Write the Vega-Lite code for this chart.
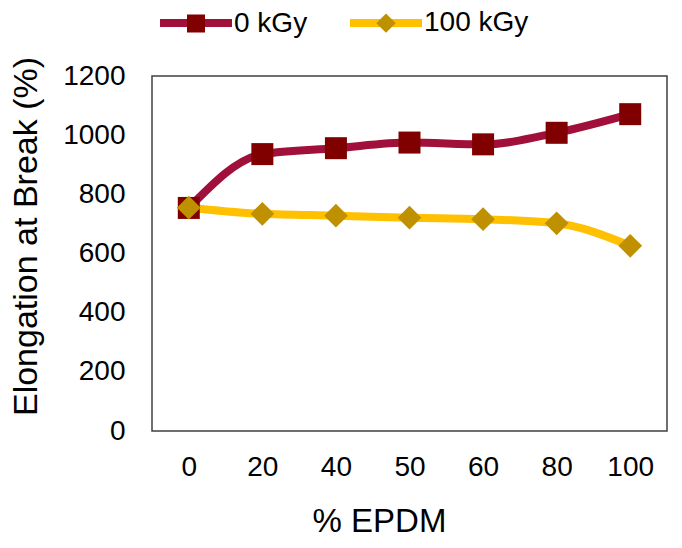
{
  "$schema": "https://vega.github.io/schema/vega-lite/v6.json",
  "width": 515,
  "height": 355,
  "autosize": {"type": "none"},
  "padding": {"left": 152, "top": 76, "right": 15, "bottom": 117},
  "background": "white",
  "config": {
    "font": "Liberation Sans",
    "view": {"stroke": "#404040", "strokeWidth": 1.5},
    "axis": {"grid": false, "domain": false, "ticks": false, "tickSize": 0, "labelColor": "black", "titleColor": "black", "labelFont": "Liberation Sans", "titleFont": "Liberation Sans", "titleFontWeight": "normal"}
  },
  "data": {
    "values": [
      {"epdm": "0", "dose": "0 kGy", "value": 754},
      {"epdm": "20", "dose": "0 kGy", "value": 936},
      {"epdm": "40", "dose": "0 kGy", "value": 956},
      {"epdm": "50", "dose": "0 kGy", "value": 975},
      {"epdm": "60", "dose": "0 kGy", "value": 969},
      {"epdm": "80", "dose": "0 kGy", "value": 1008},
      {"epdm": "100", "dose": "0 kGy", "value": 1071},
      {"epdm": "0", "dose": "100 kGy", "value": 755},
      {"epdm": "20", "dose": "100 kGy", "value": 734},
      {"epdm": "40", "dose": "100 kGy", "value": 728},
      {"epdm": "50", "dose": "100 kGy", "value": 721},
      {"epdm": "60", "dose": "100 kGy", "value": 716},
      {"epdm": "80", "dose": "100 kGy", "value": 702},
      {"epdm": "100", "dose": "100 kGy", "value": 626}
    ]
  },
  "encoding": {
    "x": {
      "field": "epdm", "type": "ordinal", "sort": null,
      "scale": {"type": "point", "padding": 0.5},
      "axis": {"title": "% EPDM", "labelAngle": 0, "labelFontSize": 28, "labelPadding": 22, "titleFontSize": 33, "titleX": 227, "titleY": 90, "titleBaseline": "middle", "titleAlign": "center"}
    },
    "y": {
      "field": "value", "type": "quantitative",
      "scale": {"domain": [0, 1200], "nice": false, "zero": true},
      "axis": {"title": "Elongation at Break (%)", "format": "d", "values": [0, 200, 400, 600, 800, 1000, 1200], "labelFontSize": 28, "labelPadding": 27, "titleFontSize": 34, "titleAngle": -90, "titleX": -126, "titleY": 160, "titleBaseline": "middle", "titleAlign": "center"}
    }
  },
  "layer": [
    {
      "mark": {"type": "line", "strokeWidth": 8, "interpolate": "monotone"},
      "encoding": {
        "stroke": {
          "field": "dose", "type": "nominal",
          "scale": {"domain": ["0 kGy", "100 kGy"], "range": ["#A0103A", "#FFC000"]},
          "legend": {"title": null, "orient": "none", "legendX": 4, "legendY": -93, "direction": "horizontal", "gridAlign": "each", "symbolType": "stroke", "symbolSize": 5184, "symbolStrokeWidth": 8, "labelFontSize": 28, "labelOpacity": 0, "labelOffset": -2, "columnPadding": 26, "padding": 0, "zindex": 0}
        }
      }
    },
    {
      "mark": {"type": "point", "filled": true, "size": 7744, "opacity": 1, "strokeWidth": 0},
      "encoding": {
        "fill": {
          "field": "dose", "type": "nominal",
          "scale": {"range": ["#800000", "#BF9000"]},
          "legend": {"title": null, "orient": "none", "legendX": 4, "legendY": -93, "direction": "horizontal", "gridAlign": "each", "symbolSize": 5184, "symbolStrokeWidth": 8, "symbolStrokeColor": "transparent", "symbolOpacity": 1, "labelFontSize": 28, "labelColor": "black", "labelOffset": -2, "columnPadding": 26, "padding": 0, "zindex": 1}
        },
        "shape": {
          "field": "dose", "type": "nominal",
          "scale": {"range": ["M-1,0M1,0M-0.25,-0.25H0.25V0.25H-0.25Z", "M-1,0M1,0M0,-0.27L0.27,0L0,0.27L-0.27,0Z"]},
          "legend": {"title": null, "orient": "none", "legendX": 4, "legendY": -93, "direction": "horizontal", "gridAlign": "each", "symbolSize": 5184, "symbolStrokeWidth": 8, "symbolStrokeColor": "transparent", "labelFontSize": 28, "labelColor": "black", "labelOffset": -2, "columnPadding": 26, "padding": 0, "zindex": 1}
        }
      }
    }
  ]
}
